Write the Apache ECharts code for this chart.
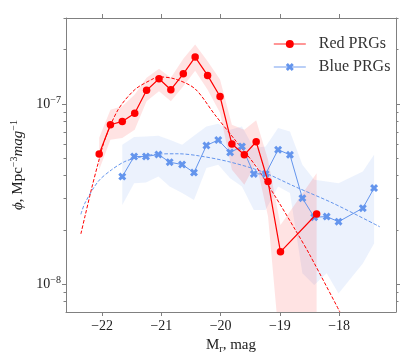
<!DOCTYPE html>
<html>
<head>
<meta charset="utf-8">
<script src="https://cdn.jsdelivr.net/npm/echarts@6/dist/echarts.min.js"></script>
<style>
  html, body { margin: 0; padding: 0; background: #fff; }
  #main { width: 415px; height: 363px; }
</style>
</head>
<body>
<div id="main"></div>
<script>
// luminosity function, red / blue PRGs
var redX   = [-22.05, -21.86, -21.66, -21.45, -21.25, -21.04, -20.84, -20.63, -20.43, -20.22, -20.01, -19.81, -19.60, -19.40, -19.20, -18.99, -18.38];
var redPhi = [5.28e-8, 7.67e-8, 8.0e-8, 8.87e-8, 1.19e-7, 1.38e-7, 1.20e-7, 1.47e-7, 1.82e-7, 1.44e-7, 1.10e-7, 5.99e-8, 5.22e-8, 6.17e-8, 3.71e-8, 1.51e-8, 2.45e-8];
var redHi  = [6.49e-8, 9.30e-8, 9.70e-8, 1.127e-7, 1.40e-7, 1.567e-7, 1.40e-7, 1.78e-7, 2.14e-7, 1.726e-7, 1.365e-7, 7.67e-8, 7.19e-8, 8.11e-8, 4.9e-8, 2.13e-8, 4.13e-8];
var redLo  = [4.31e-8, 6.33e-8, 6.47e-8, 7.19e-8, 1.034e-7, 1.175e-7, 1.034e-7, 1.253e-7, 1.53e-7, 1.20e-7, 8.95e-8, 4.31e-8, 3.56e-8, 4.71e-8, 2.37e-8, 4e-9, 3e-9];

var blueX   = [-21.66, -21.46, -21.26, -21.05, -20.86, -20.65, -20.45, -20.24, -20.04, -19.84, -19.64, -19.44, -19.24, -19.03, -18.83, -18.62, -18.42, -18.21, -18.01, -17.60, -17.41];
var bluePhi = [3.95e-8, 5.11e-8, 5.11e-8, 5.24e-8, 4.75e-8, 4.61e-8, 4.16e-8, 5.88e-8, 6.31e-8, 5.38e-8, 5.81e-8, 4.09e-8, 4.09e-8, 5.57e-8, 5.22e-8, 3.0e-8, 2.35e-8, 2.37e-8, 2.22e-8, 2.64e-8, 3.41e-8];
var blueHi  = [5.93e-8, 6.55e-8, 6.6e-8, 6.66e-8, 6.33e-8, 5.93e-8, 6.67e-8, 7.50e-8, 7.77e-8, 7.19e-8, 7.5e-8, 5.69e-8, 5.81e-8, 7.35e-8, 7.04e-8, 4.59e-8, 3.79e-8, 3.71e-8, 3.63e-8, 4.22e-8, 5.22e-8];
var blueLo  = [2.75e-8, 3.63e-8, 3.66e-8, 3.95e-8, 3.48e-8, 3.20e-8, 2.93e-8, 4.41e-8, 4.59e-8, 3.87e-8, 3.48e-8, 2.58e-8, 2.58e-8, 3.48e-8, 3.20e-8, 1.15e-8, 9.87e-9, 1.15e-8, 8.87e-9, 1.30e-8, 1.68e-8];

// fitted curves
var redFitX   = [-22.359, -22.292, -22.179, -22.068, -21.955, -21.730, -21.448, -21.166, -21.043, -20.773, -20.435, -20.098, -19.760, -19.422, -19.085, -18.747, -18.494, -17.988];
var redFitPhi = [1.90e-8, 2.36e-8, 3.38e-8, 4.68e-8, 6.33e-8, 9.30e-8, 1.201e-7, 1.365e-7, 1.413e-7, 1.377e-7, 1.216e-7, 8.72e-8, 6.33e-8, 4.59e-8, 3.09e-8, 2.02e-8, 1.45e-8, 7.01e-9];
var blueFitX   = [-22.359, -22.292, -22.068, -21.841, -21.617, -21.392, -21.055, -20.717, -20.380, -19.873, -19.310, -18.748, -18.101, -17.313];
var blueFitPhi = [2.44e-8, 2.81e-8, 3.71e-8, 4.31e-8, 4.79e-8, 5.04e-8, 5.27e-8, 5.29e-8, 5.16e-8, 4.79e-8, 4.22e-8, 3.48e-8, 2.81e-8, 2.08e-8];

var xTicks = [-22, -21, -20, -19, -18];
var yMajor = [1e-8, 1e-7];
var yMinor = [8e-9, 9e-9, 2e-8, 3e-8, 4e-8, 5e-8, 6e-8, 7e-8, 8e-8, 9e-8, 2e-7, 3e-7];

var X_MIN = -22.61, X_MAX = -17.04, Y_MIN = 7e-9, Y_MAX = 3e-7;
var FONT = "'Liberation Serif', 'DejaVu Serif', serif";
var FRAME = '#808080';
var RED = '#ff0000', BLUE = '#6495ed';
// filled "X" marker like matplotlib's
var xMark = 'path://M0,2.6 L2.6,0 L5,2.4 L7.4,0 L10,2.6 L7.6,5 L10,7.4 L7.4,10 L5,7.6 L2.6,10 L0,7.4 L2.4,5 Z';

function pairs(xs, ys) {
    return xs.map(function (x, i) { return [x, ys[i]]; });
}

// shaded band between lo and hi
function band(xs, lo, hi, fill) {
    return {
        type: 'custom', silent: true, clip: true, z: 1,
        xAxisIndex: 0, yAxisIndex: 0,
        data: [[xs[0], hi[0]]],
        renderItem: function (params, api) {
            var pts = [], i;
            for (i = 0; i < xs.length; i++) pts.push(api.coord([xs[i], hi[i]]));
            for (i = xs.length - 1; i >= 0; i--) pts.push(api.coord([xs[i], lo[i]]));
            return { type: 'polygon', shape: { points: pts }, style: { fill: fill } };
        }
    };
}

function isPow10(v) {
    var l = Math.log10(v);
    return Math.abs(l - Math.round(l)) < 1e-6;
}

var chart = echarts.init(document.getElementById('main'));

var xBase = {
    type: 'value', min: X_MIN, max: X_MAX,
    axisLine: { show: true, onZero: false, lineStyle: { color: FRAME, width: 1 } },
    axisTick: { show: true, inside: false, length: 4, customValues: xTicks, lineStyle: { color: FRAME } },
    splitLine: { show: false }
};
var yBase = {
    type: 'log', min: Y_MIN, max: Y_MAX, logBase: 10,
    axisLine: { show: true, lineStyle: { color: FRAME, width: 1 } },
    axisTick: { show: true, inside: false, length: 4, customValues: yMajor, lineStyle: { color: FRAME } },
    axisLabel: { show: false },
    splitLine: { show: false }
};

chart.setOption({
    animation: false,
    backgroundColor: '#fff',
    grid: { left: 66, top: 18, right: 19, bottom: 51, outerBoundsMode: 'none' },
    xAxis: [
        Object.assign({}, xBase, {
            position: 'bottom',
            name: '{t|M}{sub|r}{t|, mag}', nameLocation: 'middle', nameGap: 19,
            nameTextStyle: {
                fontFamily: FONT, color: '#222',
                rich: {
                    t: { fontFamily: FONT, fontSize: 15, color: '#222', lineHeight: 18 },
                    sub: { fontFamily: FONT, fontSize: 10, color: '#222', lineHeight: 10, verticalAlign: 'bottom' }
                }
            },
            axisLabel: {
                show: true, margin: 7, customValues: xTicks,
                fontFamily: FONT, fontSize: 14, color: '#222',
                formatter: function (v) { return (v < 0 ? '\u2212' : '') + Math.abs(v); }
            }
        }),
        Object.assign({}, xBase, { position: 'top', axisLabel: { show: false } })
    ],
    yAxis: [
        Object.assign({}, yBase, {
            position: 'left',
            name: '{i|\u03d5}{t|, Mpc}{s|\u22123}{it|mag}{s|\u22121}',
            nameLocation: 'middle', nameGap: 34, nameRotate: 90,
            nameTextStyle: {
                fontFamily: FONT, color: '#222',
                rich: {
                    i: { fontFamily: FONT, fontStyle: 'italic', fontSize: 15, color: '#222', lineHeight: 18 },
                    t: { fontFamily: FONT, fontSize: 15, color: '#222', lineHeight: 18 },
                    it: { fontFamily: FONT, fontStyle: 'italic', fontSize: 15, color: '#222', lineHeight: 18 },
                    s: { fontFamily: FONT, fontSize: 10, color: '#222', lineHeight: 10, verticalAlign: 'top' }
                }
            },
            axisLabel: {
                show: true, margin: 5, customValues: yMajor,
                formatter: function (v) {
                    if (!isPow10(v)) return '';
                    return '{b|10}{s|\u2212' + (-Math.round(Math.log10(v))) + '}';
                },
                rich: {
                    b: { fontFamily: FONT, fontSize: 14, color: '#222', lineHeight: 17 },
                    s: { fontFamily: FONT, fontSize: 10, color: '#222', lineHeight: 10, verticalAlign: 'top' }
                }
            }
        }),
        Object.assign({}, yBase, { position: 'right' }),
        Object.assign({}, yBase, {
            position: 'left', axisLine: { show: false },
            axisTick: { show: true, inside: false, length: 2.5, customValues: yMinor, lineStyle: { color: FRAME } }
        }),
        Object.assign({}, yBase, {
            position: 'right', axisLine: { show: false },
            axisTick: { show: true, inside: false, length: 2.5, customValues: yMinor, lineStyle: { color: FRAME } }
        })
    ],
    legend: {
        orient: 'vertical', left: 268, top: 29,
        itemWidth: 32, itemHeight: 10, itemGap: 3,
        data: [
            { name: 'Red PRGs', lineStyle: { color: 'rgba(255,0,0,0.55)', width: 1.6 } },
            { name: 'Blue PRGs', lineStyle: { color: 'rgba(100,149,237,0.6)', width: 1.6 } }
        ],
        textStyle: { fontFamily: FONT, fontSize: 16, color: '#333', lineHeight: 20, padding: [0, 0, 0, 8] }
    },
    series: [
        band(blueX, blueLo, blueHi, 'rgba(100,149,237,0.12)'),
        band(redX, redLo, redHi, 'rgba(255,0,0,0.11)'),
        {
            name: 'Blue fit', type: 'line', z: 2, xAxisIndex: 0, yAxisIndex: 0,
            data: pairs(blueFitX, blueFitPhi), smooth: 0.3, showSymbol: false, silent: true,
            lineStyle: { color: BLUE, width: 1, type: [3.5, 1.8] }
        },
        {
            name: 'Red fit', type: 'line', z: 2, xAxisIndex: 0, yAxisIndex: 0,
            data: pairs(redFitX, redFitPhi), smooth: 0.3, showSymbol: false, silent: true,
            lineStyle: { color: RED, width: 1, type: [3.5, 1.8] }
        },
        {
            name: 'Blue PRGs', type: 'line', z: 3, xAxisIndex: 0, yAxisIndex: 0,
            data: pairs(blueX, bluePhi), showAllSymbol: true,
            symbol: xMark, symbolSize: 8,
            itemStyle: { color: BLUE, borderWidth: 0 },
            lineStyle: { color: BLUE, width: 1 }
        },
        {
            name: 'Red PRGs', type: 'line', z: 4, xAxisIndex: 0, yAxisIndex: 0,
            data: pairs(redX, redPhi), showAllSymbol: true,
            symbol: 'circle', symbolSize: 7.5,
            itemStyle: { color: RED, borderWidth: 0 },
            lineStyle: { color: RED, width: 1.2 }
        }
    ]
});
</script>
</body>
</html>
